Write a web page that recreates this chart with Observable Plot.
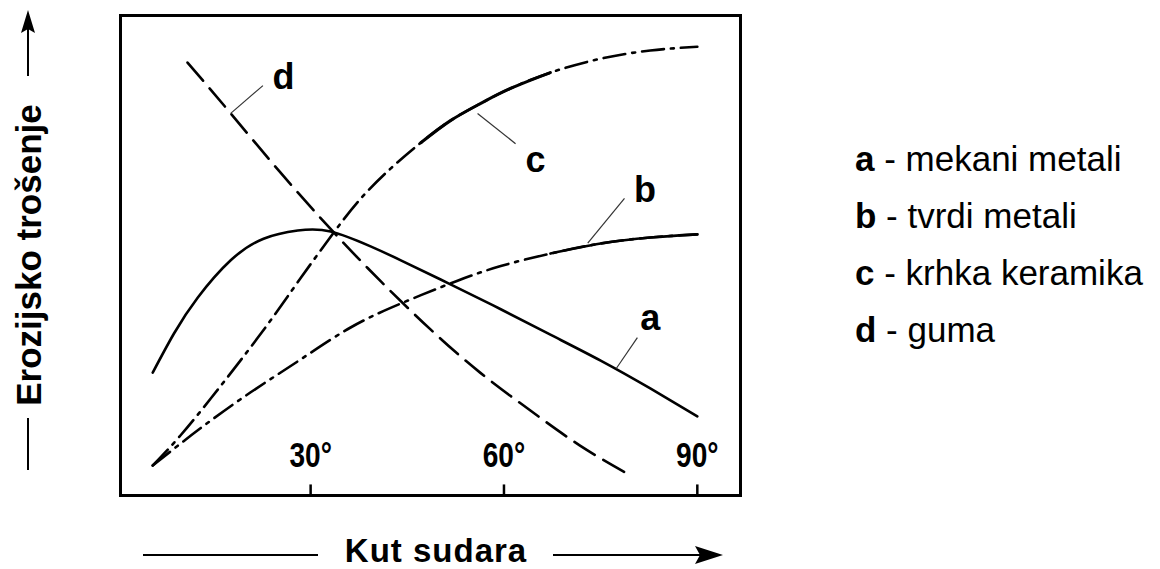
<!DOCTYPE html>
<html>
<head>
<meta charset="utf-8">
<script src="https://cdn.jsdelivr.net/npm/d3@7"></script>
<script src="https://cdn.jsdelivr.net/npm/@observablehq/plot@0.6"></script>
<style>
  html, body { margin: 0; padding: 0; background: #fff; }
  #chart { width: 1160px; height: 569px; }
  svg { font-family: "Liberation Sans", Arial, sans-serif; }
</style>
</head>
<body>
<div id="chart"></div>
<script>
// ---- data ----
const angleTicks = [30, 60, 90];
const seriesKeys = ["a", "b", "c", "d"];
const seriesNames = ["mekani metali", "tvrdi metali", "krhka keramika", "guma"];
const xTitle = "Kut sudara";
const yTitle = "Erozijsko trošenje";

// a - mekani metali (solid)
const aX = [5.5, 8.8, 12.5, 17.6, 22.7, 28.0, 33.1, 39.3, 44.0, 51.7, 59.5, 67.2, 75.0, 82.7, 90.0];
const aY = [25.6, 33.75, 41.25, 49.0, 53.5, 55.2, 55.0, 51.9, 49.0, 44.0, 38.8, 33.5, 28.1, 22.3, 16.5];
// b - tvrdi metali (dash-dot, solid at the end)
const bX = [5.5, 12.9, 20.7, 28.4, 36.2, 44.0, 52.5, 59.5, 67.2, 75.0, 82.7, 90.0];
const bY = [6.25, 14.0, 21.5, 28.3, 35.0, 40.0, 44.6, 47.8, 50.4, 52.5, 53.75, 54.4];
// c - krhka keramika (dash-dot, solid middle part)
const cX = [5.5, 9.8, 14.5, 19.1, 23.8, 28.4, 33.6, 37.8, 42.4, 47.1, 51.7, 56.4, 61.0, 67.2, 75.0, 82.7, 90.0];
const cY = [6.25, 12.5, 20.2, 28.1, 36.5, 45.2, 54.8, 61.9, 68.1, 73.5, 78.1, 81.7, 84.8, 88.1, 91.0, 92.7, 93.5];
// d - guma (dashed)
const dX = [10.9, 17.6, 25.3, 33.6, 40.9, 48.6, 56.3, 64.1, 71.8, 79.6];
const dY = [90.2, 79.6, 67.3, 54.8, 44.6, 34.6, 25.6, 17.7, 10.4, 4.2];

// curve labels and leader lines (data units)
const labelKeys = ["d", "c", "b", "a"];
const labelX = [25.8, 64.9, 81.9, 82.7];
const labelY = [87.1, 69.8, 63.5, 36.9];
const leadX1 = [17.6, 55.9, 73.0, 77.4];
const leadY1 = [79.6, 79.6, 52.6, 26.4];
const leadX2 = [22.6, 61.8, 78.7, 80.7];
const leadY2 = [85.4, 73.3, 61.9, 32.9];

const toRows = (xs, ys) => xs.map((x, i) => ({x, y: ys[i]}));
const aData = toRows(aX, aY);
const bData = toRows(bX, bY);
const cData = toRows(cX, cY);
const dData = toRows(dX, dY);
const labels = labelKeys.map((k, i) => ({k, x: labelX[i], y: labelY[i]}));
const leaders = labelKeys.map((k, i) => ({x1: leadX1[i], y1: leadY1[i], x2: leadX2[i], y2: leadY2[i]}));

const W = 2.6;
const chart = Plot.plot({
  width: 1160,
  height: 569,
  marginLeft: 120,
  marginRight: 420,
  marginTop: 15,
  marginBottom: 74,
  x: {domain: [0.5, 96.7], axis: null},
  y: {domain: [0, 100], axis: null},
  style: {background: "white", fontFamily: "'Liberation Sans', Arial, sans-serif"},
  marks: [
    Plot.frame({stroke: "black", strokeWidth: 3}),
    Plot.ruleX(angleTicks, {x: d => d, y1: 0, y2: 2.2, stroke: "black", strokeWidth: 2.5}),
    Plot.text(angleTicks, {x: d => d, frameAnchor: "bottom", dy: -29, text: d => d + "°",
      fontSize: 36, fontWeight: "bold", fill: "black", className: "ticklab"}),
    Plot.line(aData, {x: "x", y: "y", curve: "natural", stroke: "black", strokeWidth: W}),
    Plot.line(bData, {x: "x", y: "y", curve: "natural", stroke: "black", strokeWidth: W, strokeDasharray: "22,7,3,7"}),
    Plot.line(bData.filter(d => d.x >= 66), {x: "x", y: "y", curve: "natural", stroke: "black", strokeWidth: W}),
    Plot.line(cData, {x: "x", y: "y", curve: "natural", stroke: "black", strokeWidth: W, strokeDasharray: "22,7,3,7"}),
    Plot.line(cData.filter(d => d.x >= 47 && d.x <= 67.3), {x: "x", y: "y", curve: "natural", stroke: "black", strokeWidth: W + 0.4}),
    Plot.line(dData, {x: "x", y: "y", curve: "natural", stroke: "black", strokeWidth: W, strokeDasharray: "24,10"}),
    Plot.link(leaders, {x1: "x1", y1: "y1", x2: "x2", y2: "y2", stroke: "#333", strokeWidth: 1.2}),
    Plot.text(labels, {x: "x", y: "y", text: "k", fontSize: 36, fontWeight: "bold", fill: "black"})
  ]
});
document.getElementById("chart").appendChild(chart);

// condensed look for the angle tick labels
d3.select(chart).selectAll(".ticklab text").each(function () {
  const t = this.getAttribute("transform") || "";
  this.setAttribute("transform", t + " scale(0.78,1)");
});

// ---- decorations: axis titles with arrows, legend ----
const svg = d3.select(chart);
const g = svg.append("g").attr("fill", "black").attr("stroke", "none").attr("text-anchor", "start");

// y title
g.append("text")
  .attr("transform", "translate(28,255) rotate(-90)")
  .attr("text-anchor", "middle")
  .attr("dominant-baseline", "central")
  .attr("font-size", 35).attr("font-weight", "bold")
  .text(yTitle);
g.append("line").attr("x1", 28).attr("x2", 28).attr("y1", 418).attr("y2", 470)
  .attr("stroke", "black").attr("stroke-width", 2);
g.append("line").attr("x1", 28).attr("x2", 28).attr("y1", 76).attr("y2", 28)
  .attr("stroke", "black").attr("stroke-width", 2);
g.append("path").attr("d", "M28,10 L21,33 L28,29 L35,33 Z");

// x title
g.append("text")
  .attr("x", 436).attr("y", 550)
  .attr("text-anchor", "middle")
  .attr("dominant-baseline", "central")
  .attr("letter-spacing", 1)
  .attr("font-size", 33).attr("font-weight", "bold")
  .text(xTitle);
g.append("line").attr("x1", 143).attr("x2", 318).attr("y1", 555).attr("y2", 555)
  .attr("stroke", "black").attr("stroke-width", 2);
g.append("line").attr("x1", 553).attr("x2", 705).attr("y1", 555).attr("y2", 555)
  .attr("stroke", "black").attr("stroke-width", 2);
g.append("path").attr("d", "M723,555 L695,546 L700,555 L695,564 Z");

// legend
seriesKeys.forEach((k, i) => {
  const t = g.append("text")
    .attr("x", 855).attr("y", 158 + i * 57)
    .attr("text-anchor", "start")
    .attr("dominant-baseline", "central")
    .attr("font-size", 35);
  t.append("tspan").attr("font-weight", "bold").text(k);
  t.append("tspan").text(" - " + seriesNames[i]);
});
</script>
</body>
</html>
